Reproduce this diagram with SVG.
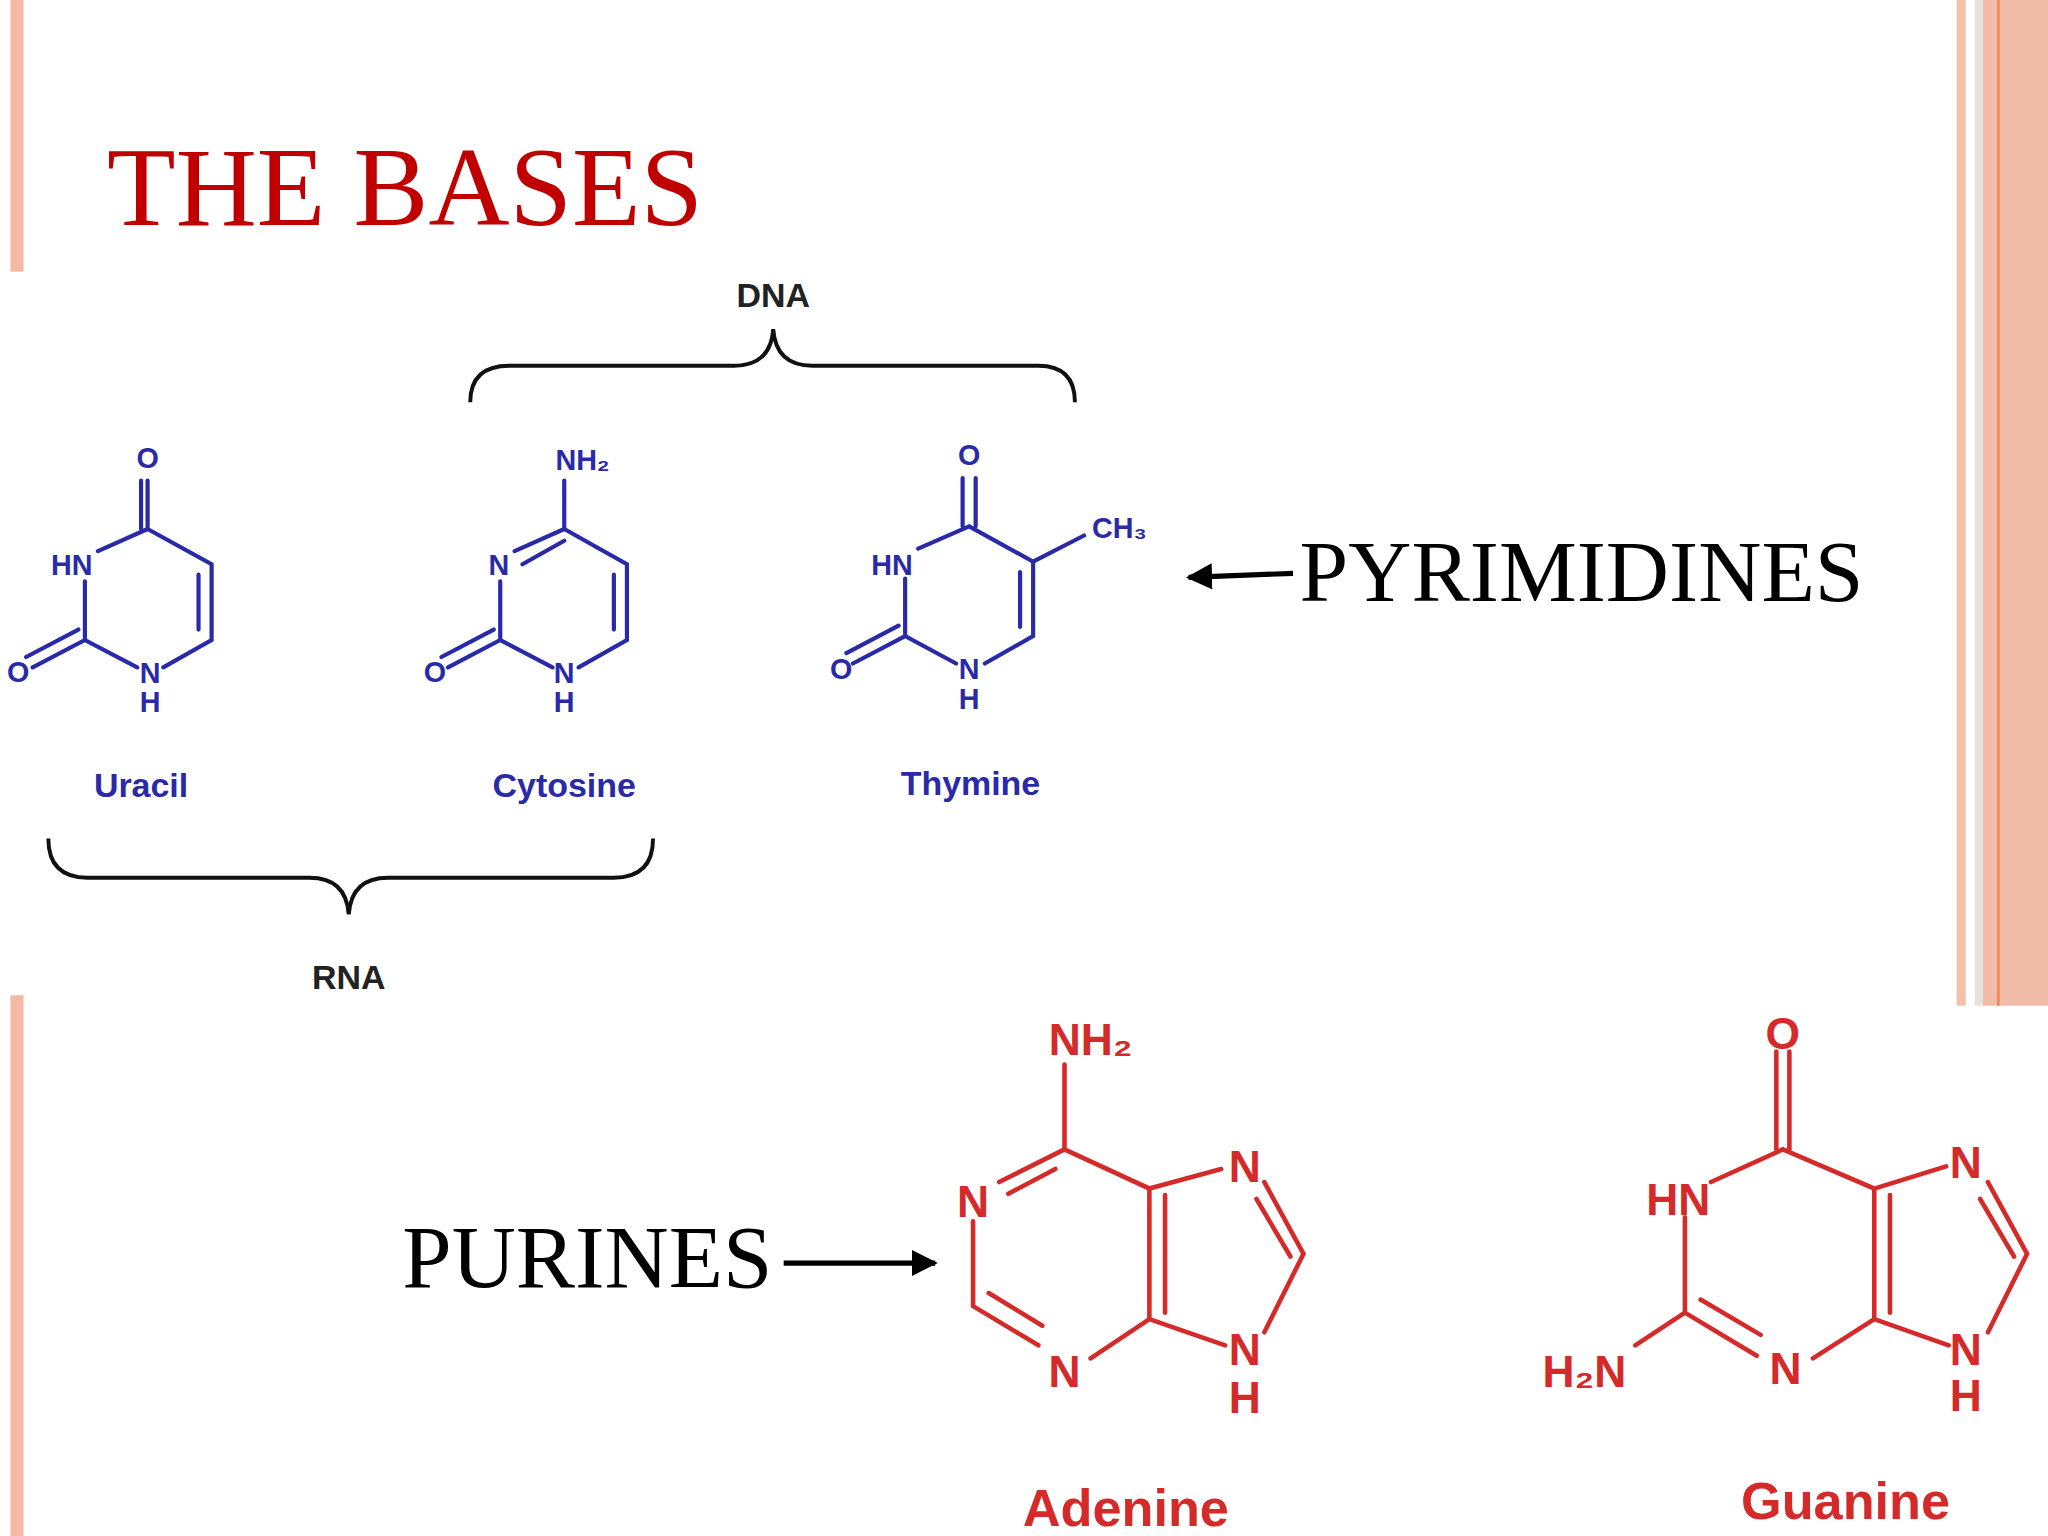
<svg xmlns="http://www.w3.org/2000/svg" width="2048" height="1536" viewBox="0 0 2048 1536">
<style>
.bl{stroke:#2a2aa8;stroke-width:3.2;fill:none;stroke-linecap:round}
.bt{fill:#2a2aa8;font-family:"Liberation Sans",Arial,sans-serif;font-weight:bold;font-size:22px;text-anchor:middle}
.bn{fill:#2a2aa8;font-family:"Liberation Sans",Arial,sans-serif;font-weight:bold;font-size:26px;text-anchor:middle}
.rl{stroke:#d42a2a;stroke-width:3.5;fill:none;stroke-linecap:round}
.rt{fill:#d42a2a;font-family:"Liberation Sans",Arial,sans-serif;font-weight:bold;font-size:34px;text-anchor:middle}
.rn{fill:#d42a2a;font-family:"Liberation Sans",Arial,sans-serif;font-weight:bold;font-size:40px;text-anchor:middle}
.k{stroke:#111;stroke-width:3;fill:none}
.kt{fill:#222;font-family:"Liberation Sans",Arial,sans-serif;font-weight:bold;font-size:26px;text-anchor:middle}
.sf{fill:#000;font-family:"Liberation Serif","Times New Roman",serif}
.ttl{fill:#c00000;font-family:"Liberation Serif","Times New Roman",serif;font-size:86px}
</style>
<defs>
<marker id="ah" viewBox="0 0 10 10" refX="9" refY="5" markerWidth="5" markerHeight="5" orient="auto"><path d="M0,0L10,5L0,10z" fill="#000"/></marker>
</defs>
<rect width="2048" height="1536" fill="#fff"/>
<g transform="scale(1.30612)">
<g id="decor">
<rect x="8" y="0" width="10" height="208" fill="#f5b9a3"/>
<rect x="8" y="762" width="10" height="414" fill="#f5b9a3"/>
<rect x="1498" y="0" width="7" height="770" fill="#f5c0aa"/>
<rect x="1512" y="0" width="6" height="770" fill="#e4e0e0"/>
<rect x="1518" y="0" width="50" height="770" fill="#f2bda8"/>
<rect x="1529" y="0" width="2" height="770" fill="#f08a50"/>
</g>
<g id="title"><text class="ttl" x="82" y="172">THE BASES</text></g>
<g id="dna"><path class="k" d="M360,308 Q360,280 390,280 L562,280 Q590,280 592,252 Q594,280 622,280 L795,280 Q823,280 823,308"/><text class="kt" x="592" y="235">DNA</text></g>
<g id="rna"><path class="k" d="M37,642 Q37,672 67,672 L237,672 Q265,672 267,700 Q269,672 297,672 L470,672 Q500,672 500,642"/><text class="kt" x="267" y="757">RNA</text></g>
<g id="uracil">
<path class="bl" d="M113,368V405M113,405L162,432V490L125,511M105,511L65,490V445M75,422L113,405M152,440V482M65,490L25,511M60,482L20,503"/>
<path class="bl" d="M108,368V405"/>
<text class="bt" x="113" y="358">O</text><text class="bt" x="55" y="440">HN</text><text class="bt" x="115" y="523">N</text><text class="bt" x="115" y="545">H</text><text class="bt" x="14" y="522">O</text>
<text class="bn" x="108" y="610">Uracil</text>
</g>
<g id="cytosine">
<path class="bl" d="M432,368V405M432,405L480,432V490L443,511M423,511L383,490V445M394,422L432,405M400,432L432,414M470,440V482M383,490L343,511M378,482L338,503"/>
<text class="bt" x="446" y="360">NH₂</text><text class="bt" x="382" y="440">N</text><text class="bt" x="432" y="523">N</text><text class="bt" x="432" y="545">H</text><text class="bt" x="333" y="522">O</text>
<text class="bn" x="432" y="610">Cytosine</text>
</g>
<g id="thymine">
<path class="bl" d="M737,366V403M747,366V403M742,403L791,430V487L754,508M732,508L693,487V443M703,420L742,403M781,438V480M693,487L653,508M688,479L648,500M791,430L830,410"/>
<text class="bt" x="742" y="356">O</text><text class="bt" x="683" y="440">HN</text><text class="bt" x="742" y="520">N</text><text class="bt" x="742" y="543">H</text><text class="bt" x="644" y="520">O</text><text class="bt" x="857" y="412">CH₃</text>
<text class="bn" x="743" y="609">Thymine</text>
</g>
<g id="pyr-label"><text class="sf" x="995" y="460" font-size="67">PYRIMIDINES</text></g>
<g id="pur-label"><text class="sf" x="308" y="985" font-size="68">PURINES</text></g>
<g id="adenine">
<path class="rl" d="M815,815V880M815,880L765,905M808,895L772,914M815,880L880,910V1010M892,915V1005M880,910L935,895M968,905L998,960L968,1020M962,918L988,962M880,1010L938,1030M880,1010L835,1040M745,935V1000M745,1000L795,1030M757,990L798,1015"/>
<text class="rt" x="835" y="808">NH₂</text><text class="rt" x="745" y="932">N</text><text class="rt" x="953" y="905">N</text><text class="rt" x="815" y="1062">N</text><text class="rt" x="953" y="1045">N</text><text class="rt" x="953" y="1082">H</text>
<text class="rn" x="862" y="1168">Adenine</text>
</g>
<g id="guanine">
<path class="rl" d="M1360,805V880M1370,805V880M1365,880L1310,905M1365,880L1435,910V1010M1447,915V1005M1435,910L1490,893M1522,905L1552,960L1522,1020M1516,918L1542,962M1435,1010L1492,1030M1435,1010L1388,1040M1290,932V1005M1290,1005L1345,1038M1302,995L1348,1022M1290,1005L1252,1030"/>
<text class="rt" x="1365" y="803">O</text><text class="rt" x="1285" y="930">HN</text><text class="rt" x="1505" y="902">N</text><text class="rt" x="1367" y="1060">N</text><text class="rt" x="1213" y="1062">H₂N</text><text class="rt" x="1505" y="1045">N</text><text class="rt" x="1505" y="1080">H</text>
<text class="rn" x="1413" y="1163">Guanine</text>
</g>
<g id="connectors">
<line x1="990" y1="439" x2="910" y2="442" stroke="#000" stroke-width="4" marker-end="url(#ah)"/>
<line x1="600" y1="967" x2="716" y2="967" stroke="#000" stroke-width="4" marker-end="url(#ah)"/>
</g>
</g>
</svg>
